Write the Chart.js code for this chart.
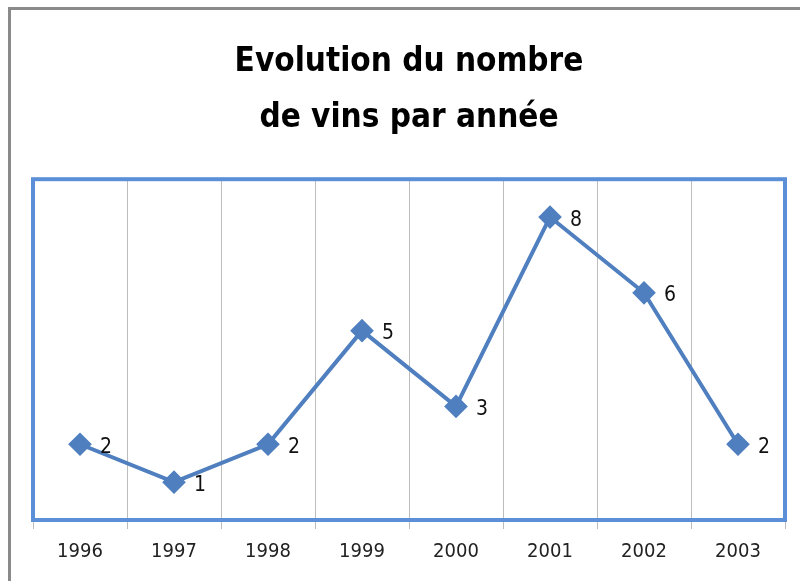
<!DOCTYPE html>
<html>
<head>
<meta charset="utf-8">
<script src="https://cdn.jsdelivr.net/npm/chart.js@4"></script>
<style>
    html, body { margin: 0; padding: 0; background: #fff; }
    #wrap { width: 800px; height: 581px; }
</style>
</head>
<body>
<div id="wrap"><canvas id="wineChart" width="800" height="581"></canvas></div>
<script>
// Données du graphique
const years = ['1996', '1997', '1998', '1999', '2000', '2001', '2002', '2003'];
const wineCounts = [2, 1, 2, 5, 3, 8, 6, 2];
const titleLines = ['Evolution du nombre', 'de vins par année'];

const FONT = '"Liberation Sans Narrow", "DejaVu Sans Condensed", "Open Sans", sans-serif';

// Cadre gris + bordure bleue de la zone de tracé
const framePlugin = {
    id: 'frame',
    beforeDraw(chart) {
        const ctx = chart.ctx;
        ctx.save();
        ctx.fillStyle = '#ffffff';
        ctx.fillRect(0, 0, chart.width, chart.height);
        ctx.strokeStyle = '#8a8a8a';
        ctx.lineWidth = 3;
        ctx.beginPath();
        ctx.moveTo(9.5, chart.height);
        ctx.lineTo(9.5, 8.5);
        ctx.lineTo(chart.width, 8.5);
        ctx.stroke();
        ctx.restore();
    },
    afterDatasetsDraw(chart) {
        const a = chart.chartArea;
        const ctx = chart.ctx;
        ctx.save();
        ctx.strokeStyle = '#5b8fd8';
        ctx.lineWidth = 4;
        ctx.strokeRect(a.left, a.top, a.right - a.left, a.bottom - a.top);
        ctx.restore();
    }
};

// Étiquettes de valeurs à droite des points
const labelPlugin = {
    id: 'valueLabels',
    afterDatasetsDraw(chart) {
        const ctx = chart.ctx;
        const meta = chart.getDatasetMeta(0);
        ctx.save();
        ctx.font = '21px ' + FONT;
        ctx.fillStyle = '#111';
        ctx.textAlign = 'left';
        ctx.textBaseline = 'middle';
        meta.data.forEach((pt, i) => {
            ctx.fillText(String(wineCounts[i]), pt.x + 20, pt.y + 3);
        });
        ctx.restore();
    }
};

new Chart(document.getElementById('wineChart'), {
    type: 'line',
    data: {
        labels: years,
        datasets: [{
            data: wineCounts,
            borderColor: '#4f7fbf',
            backgroundColor: '#4f7fbf',
            borderWidth: 4,
            pointStyle: 'rectRot',
            pointRadius: 9,
            pointHoverRadius: 9,
            tension: 0
        }]
    },
    options: {
        responsive: false,
        animation: false,
        layout: { padding: { left: 33, right: 15, top: 34, bottom: 6 } },
        plugins: {
            legend: { display: false },
            tooltip: { enabled: false },
            title: {
                display: true,
                text: titleLines,
                color: '#000',
                font: { family: FONT, size: 33, weight: 'bold', lineHeight: 1.7 },
                padding: { top: 0, bottom: 33 }
            }
        },
        scales: {
            x: {
                offset: true,
                grid: {
                    offset: true,
                    color: '#bdbdbd',
                    lineWidth: 1,
                    tickLength: 9
                },
                border: { display: false },
                ticks: {
                    color: '#222',
                    font: { family: FONT, size: 20 },
                    padding: 11,
                    maxRotation: 0
                }
            },
            y: {
                display: false,
                min: 0,
                max: 9
            }
        }
    },
    plugins: [framePlugin, labelPlugin]
});
</script>
</body>
</html>
